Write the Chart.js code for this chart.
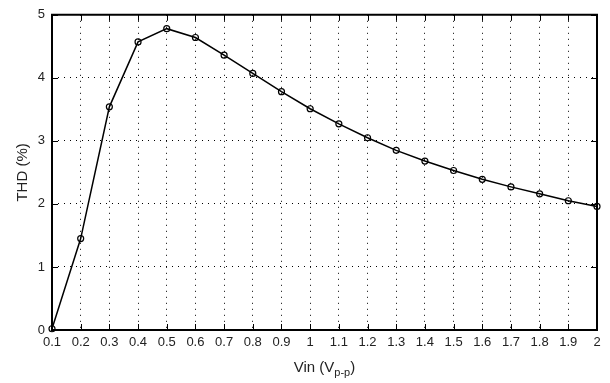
<!DOCTYPE html>
<html>
<head>
<meta charset="utf-8">
<script src="https://cdn.jsdelivr.net/npm/chart.js@4/dist/chart.umd.min.js"></script>
<style>
  html, body { margin: 0; padding: 0; background: #fff; overflow: hidden; }
  #wrap { width: 610px; height: 383px; }
  canvas { display: block; }
</style>
</head>
<body>
<div id="wrap"><canvas id="myChart" width="610" height="383"></canvas></div>
<script>
const vin = [0.1, 0.2, 0.3, 0.4, 0.5, 0.6, 0.7, 0.8, 0.9, 1.0,
  1.1, 1.2, 1.3, 1.4, 1.5, 1.6, 1.7, 1.8, 1.9, 2.0];
const thd = [0.02, 1.45, 3.54, 4.57, 4.78, 4.64, 4.36, 4.07, 3.78, 3.51,
  3.27, 3.05, 2.85, 2.68, 2.53, 2.39, 2.27, 2.16, 2.05, 1.96];
const xTicks = vin.slice();
const yTicks = [0, 1, 2, 3, 4, 5];

// frame, inside tick marks and the x title with subscript
const framePlugin = {
  id: 'frame',
  afterDraw(chart) {
    const ctx = chart.ctx;
    const a = chart.chartArea;
    const xs = chart.scales.x;
    const ys = chart.scales.y;
    ctx.save();
    ctx.strokeStyle = '#000';
    ctx.lineWidth = 1;
    xTicks.forEach(v => {
      const px = Math.round(xs.getPixelForValue(v)) + 0.5;
      ctx.beginPath();
      ctx.moveTo(px, a.bottom); ctx.lineTo(px, a.bottom - 6);
      ctx.moveTo(px, a.top); ctx.lineTo(px, a.top + 6);
      ctx.stroke();
    });
    yTicks.forEach(v => {
      const py = Math.round(ys.getPixelForValue(v)) + 0.5;
      ctx.beginPath();
      ctx.moveTo(a.left, py); ctx.lineTo(a.left + 6, py);
      ctx.moveTo(a.right, py); ctx.lineTo(a.right - 6, py);
      ctx.stroke();
    });
    // box round the plot
    ctx.lineWidth = 2;
    ctx.beginPath();
    ctx.moveTo(a.left, a.top - 1); ctx.lineTo(a.left, a.bottom + 1);
    ctx.moveTo(a.right, a.top - 1); ctx.lineTo(a.right, a.bottom + 1);
    ctx.moveTo(a.left - 1, a.top); ctx.lineTo(a.right + 1, a.top);
    ctx.moveTo(a.left - 1, a.bottom); ctx.lineTo(a.right + 1, a.bottom);
    ctx.stroke();

    // x title: Vin (V p-p)
    ctx.fillStyle = '#222';
    ctx.textBaseline = 'alphabetic';
    const big = '15px "Liberation Sans", Arial, sans-serif';
    const small = '11px "Liberation Sans", Arial, sans-serif';
    const p1 = 'Vin (V', p2 = 'p-p', p3 = ')';
    ctx.font = big; const w1 = ctx.measureText(p1).width; const w3 = ctx.measureText(p3).width;
    ctx.font = small; const w2 = ctx.measureText(p2).width;
    let x0 = (a.left + a.right) / 2 - (w1 + w2 + w3) / 2;
    const base = 372;
    ctx.font = big; ctx.fillText(p1, x0, base);
    ctx.font = small; ctx.fillText(p2, x0 + w1, base + 4);
    ctx.font = big; ctx.fillText(p3, x0 + w1 + w2, base);
    ctx.restore();
  }
};

const renderChart = () => {
  const ctx = document.getElementById('myChart');
  new Chart(ctx, {
    type: 'line',
    data: {
      datasets: [{
        data: vin.map((v, i) => ({ x: v, y: thd[i] })),
        borderColor: '#000',
        borderWidth: 1.5,
        pointRadius: 3,
        pointBorderWidth: 1.2,
        pointBorderColor: '#000',
        pointBackgroundColor: 'rgba(255,255,255,0)',
        tension: 0,
        clip: false
      }]
    },
    options: {
      responsive: false,
      animation: false,
      layout: { padding: { top: 13, right: 13, left: 0, bottom: 0 } },
      plugins: { legend: { display: false }, tooltip: { enabled: false } },
      scales: {
        x: {
          type: 'linear',
          min: 0.1, max: 2,
          afterBuildTicks: s => { s.ticks = xTicks.map(v => ({ value: v })); },
          afterFit: s => { s.height = 53; },
          border: { display: false, dash: [1, 5] },
          grid: { color: '#000', lineWidth: 1, drawTicks: false },
          ticks: {
            padding: 5,
            color: '#222',
            font: { family: '"Liberation Sans", Arial, sans-serif', size: 13 },
            maxRotation: 0,
            autoSkip: false,
            callback: v => String(+v.toFixed(1))
          }
        },
        y: {
          min: 0, max: 5,
          afterBuildTicks: s => { s.ticks = yTicks.map(v => ({ value: v })); },
          afterFit: s => { s.width = 52; },
          border: { display: false, dash: [1, 5] },
          grid: { color: '#000', lineWidth: 1, drawTicks: false },
          ticks: {
            padding: 7,
            color: '#222',
            font: { family: '"Liberation Sans", Arial, sans-serif', size: 13 }
          },
          title: {
            display: true,
            text: 'THD (%)',
            color: '#222',
            font: { family: '"Liberation Sans", Arial, sans-serif', size: 15 },
            padding: { top: 14, bottom: 4 }
          }
        }
      }
    },
    plugins: [framePlugin]
  });
};

window.addEventListener('load', () => {
  renderChart();
});
</script>
</body>
</html>
